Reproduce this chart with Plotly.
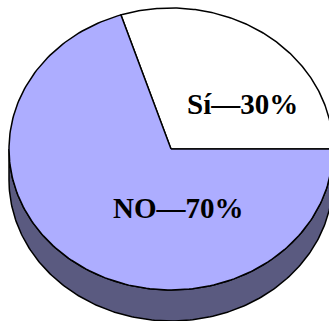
import numpy as np
import plotly.graph_objects as go

# Survey answer shares
labels = ["Sí", "NO"]
values = [30, 70]
colors = ["#FFFFFF", "#ADADFF"]
side_color = "#5A5A80"

# Pie geometry (pixel space, y pointing down)
W, H = 329, 321
cx, cy = 171, 149
rx, ry = 162, 141
depth = 31
label_pos = [(242, 104), (178, 208)]


def arc(t0, t1, n=200, dy=0.0):
    t = np.radians(np.linspace(t0, t1, n))
    return cx + rx * np.cos(t), cy - ry * np.sin(t) + dy


fig = go.Figure()

# Side wall of the disc (lower half of the ellipse)
xt, yt = arc(180, 360)
xb, yb = arc(360, 180, dy=depth)
fig.add_trace(go.Scatter(
    x=np.concatenate([xt, xb, xt[:1]]), y=np.concatenate([yt, yb, yt[:1]]),
    mode="lines", fill="toself", fillcolor=side_color,
    line=dict(color="black", width=1.5), hoverinfo="skip", showlegend=False))

# Top face slices, counterclockwise from 3 o'clock
total = sum(values)
start = 0.0
for lab, val, col in zip(labels, values, colors):
    end = start + 360.0 * val / total
    ax, ay = arc(start, end)
    fig.add_trace(go.Scatter(
        x=np.concatenate([[cx], ax, [cx]]), y=np.concatenate([[cy], ay, [cy]]),
        mode="lines", fill="toself", fillcolor=col,
        line=dict(color="black", width=1.5), hoverinfo="skip", showlegend=False))
    start = end

for lab, val, (px, py) in zip(labels, values, label_pos):
    fig.add_annotation(x=px, y=py, text=f"<b>{lab}—{val}%</b>", showarrow=False,
                       font=dict(family="Liberation Serif", size=29, color="black"))

fig.update_xaxes(range=[0, W], visible=False, fixedrange=True)
fig.update_yaxes(range=[H, 0], visible=False, fixedrange=True)
fig.update_layout(width=W, height=H, margin=dict(l=0, r=0, t=0, b=0),
                  paper_bgcolor="white", plot_bgcolor="white")
fig.write_html("out.html")
